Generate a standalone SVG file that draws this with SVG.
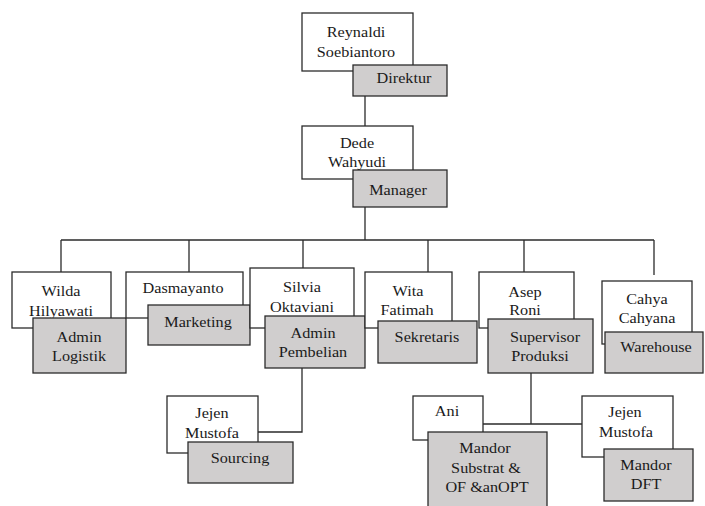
<svg xmlns="http://www.w3.org/2000/svg" width="705" height="506" viewBox="0 0 705 506">
<style>
.w{fill:#ffffff;stroke:#2b2b2b;stroke-width:1.3}
.g{fill:#d0cece;stroke:#2b2b2b;stroke-width:1.3}
.c{fill:none;stroke:#2b2b2b;stroke-width:1.3}
text{font-family:"Liberation Serif","Times New Roman",serif;font-size:15px;fill:#1a1a1a;text-anchor:middle}
</style>
<rect width="705" height="506" fill="#ffffff"/>
<g id="connectors">
<path class="c" d="M365 96V126M365 207V240M61 240H654M61 240V272M189 240V272M303 240V268M428 240V272M524 240V272M654 240V275"/>
<path class="c" d="M302 368V432H258"/>
<path class="c" d="M531 373V424M483 424H582"/>
</g>
<g id="direktur">
<rect class="w" x="302" y="13" width="111" height="58"/>
<text transform="translate(356,37) scale(1.08,1)">Reynaldi</text>
<text transform="translate(356,57) scale(1.08,1)">Soebiantoro</text>
<rect class="g" x="353" y="65" width="94" height="31"/>
<text transform="translate(404,83) scale(1.08,1)">Direktur</text>
</g>
<g id="manager">
<rect class="w" x="302" y="126" width="111" height="53"/>
<text transform="translate(357,148) scale(1.08,1)">Dede</text>
<text transform="translate(357,167) scale(1.08,1)">Wahyudi</text>
<rect class="g" x="353" y="170" width="94" height="37"/>
<text transform="translate(398,195) scale(1.08,1)">Manager</text>
</g>
<g id="admin-logistik">
<rect class="w" x="12" y="272" width="99" height="56"/>
<text transform="translate(61,296) scale(1.08,1)">Wilda</text>
<text transform="translate(61,316) scale(1.08,1)">Hilyawati</text>
<rect class="g" x="33" y="318" width="93" height="55"/>
<text transform="translate(79,342) scale(1.08,1)">Admin</text>
<text transform="translate(79,361) scale(1.08,1)">Logistik</text>
</g>
<g id="marketing">
<rect class="w" x="126" y="272" width="117" height="46"/>
<text transform="translate(183,293) scale(1.08,1)">Dasmayanto</text>
<rect class="g" x="148" y="305" width="102" height="40"/>
<text transform="translate(198,327) scale(1.08,1)">Marketing</text>
</g>
<g id="admin-pembelian">
<rect class="w" x="250" y="268" width="104" height="60"/>
<text transform="translate(302,292) scale(1.08,1)">Silvia</text>
<text transform="translate(302,312) scale(1.08,1)">Oktaviani</text>
<rect class="g" x="265" y="316" width="100" height="52"/>
<text transform="translate(313,338) scale(1.08,1)">Admin</text>
<text transform="translate(313,357) scale(1.08,1)">Pembelian</text>
</g>
<g id="sekretaris">
<rect class="w" x="365" y="272" width="87" height="56"/>
<text transform="translate(408,296) scale(1.08,1)">Wita</text>
<text transform="translate(407,315) scale(1.08,1)">Fatimah</text>
<rect class="g" x="378" y="321" width="99" height="42"/>
<text transform="translate(427,342) scale(1.08,1)">Sekretaris</text>
</g>
<g id="supervisor-produksi">
<rect class="w" x="479" y="272" width="95" height="56"/>
<text transform="translate(525,297) scale(1.08,1)">Asep</text>
<text transform="translate(525,315) scale(1.08,1)">Roni</text>
<rect class="g" x="488" y="319" width="105" height="54"/>
<text transform="translate(545,342) scale(1.08,1)">Supervisor</text>
<text transform="translate(540,361) scale(1.08,1)">Produksi</text>
</g>
<g id="warehouse">
<rect class="w" x="602" y="281" width="90" height="63"/>
<text transform="translate(647,304) scale(1.08,1)">Cahya</text>
<text transform="translate(647,323) scale(1.08,1)">Cahyana</text>
<rect class="g" x="605" y="332" width="98" height="41"/>
<text transform="translate(656,352) scale(1.08,1)">Warehouse</text>
</g>
<g id="sourcing">
<rect class="w" x="167" y="396" width="91" height="57"/>
<text transform="translate(212,418) scale(1.08,1)">Jejen</text>
<text transform="translate(212,438) scale(1.08,1)">Mustofa</text>
<rect class="g" x="188" y="442" width="105" height="41"/>
<text transform="translate(240,463) scale(1.08,1)">Sourcing</text>
</g>
<g id="mandor-substrat">
<rect class="w" x="413" y="396" width="70" height="44"/>
<text transform="translate(447,416) scale(1.08,1)">Ani</text>
<rect class="g" x="428" y="432" width="119" height="80"/>
<text transform="translate(485,453) scale(1.08,1)">Mandor</text>
<text transform="translate(486,473) scale(1.08,1)">Substrat &amp;</text>
<text transform="translate(487,492) scale(1.08,1)">OF &amp;anOPT</text>
</g>
<g id="mandor-dft">
<rect class="w" x="582" y="396" width="91" height="61"/>
<text transform="translate(625,417) scale(1.08,1)">Jejen</text>
<text transform="translate(626,437) scale(1.08,1)">Mustofa</text>
<rect class="g" x="604" y="449" width="89" height="52"/>
<text transform="translate(646,470) scale(1.08,1)">Mandor</text>
<text transform="translate(646,489) scale(1.08,1)">DFT</text>
</g>
</svg>
